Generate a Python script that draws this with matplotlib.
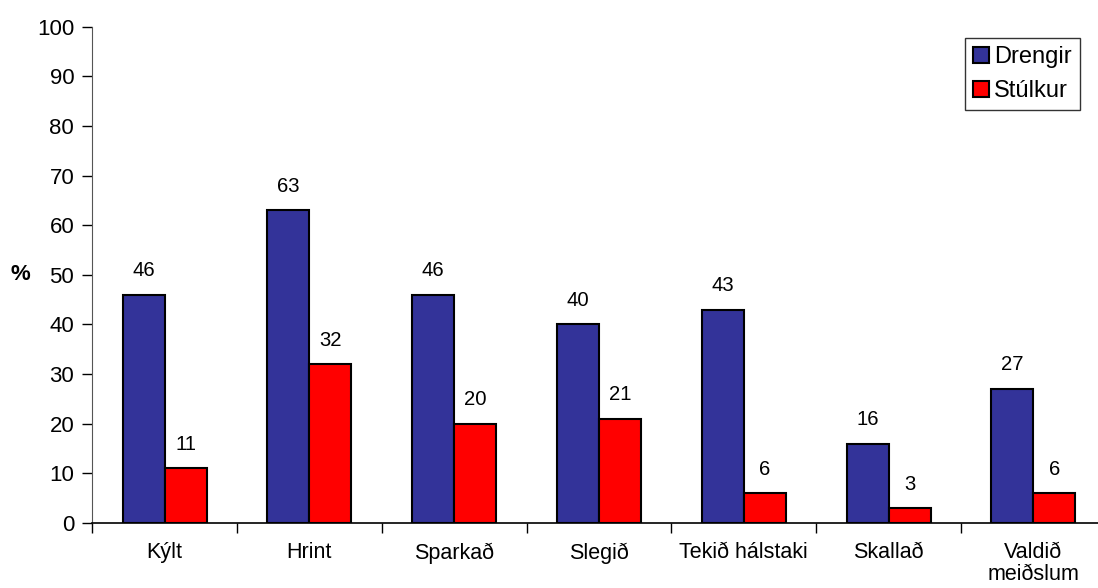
import matplotlib
matplotlib.use("Agg")
import matplotlib.pyplot as plt
import numpy as np

categories = ["Kýlt", "Hrint", "Sparkað", "Slegið", "Tekið hálstaki", "Skallað", "Valdið\nmeiðslum"]
drengir = [46, 63, 46, 40, 43, 16, 27]
stulkur = [11, 32, 20, 21, 6, 3, 6]
yticks = list(range(0, 101, 10))

plt.rcParams['font.family'] = ['Liberation Sans', 'DejaVu Sans']

fig = plt.figure(figsize=(10.98, 5.88), dpi=100)
W, H = 1098, 588
x0, x1 = 92.2, 1105.8
y0, y1 = 523.0, 26.7
ax = fig.add_axes([x0 / W, (H - y0) / H, (x1 - x0) / W, (y0 - y1) / H])

x = np.arange(len(categories))
bw = 42 / 144.8
ax.bar(x - bw / 2, drengir, bw, color="#333399", edgecolor="black", linewidth=1.5, label="Drengir")
ax.bar(x + bw / 2, stulkur, bw, color="#FF0000", edgecolor="black", linewidth=1.5, label="Stúlkur")

for xi, v in zip(x - bw / 2, drengir):
    ax.annotate(str(v), (xi, v), xytext=(0, 10.5), textcoords="offset points", ha="center", va="bottom", fontsize=14.6)
for xi, v in zip(x + bw / 2, stulkur):
    ax.annotate(str(v), (xi, v), xytext=(0, 10.5), textcoords="offset points", ha="center", va="bottom", fontsize=14.6)

ax.set_xlim(-0.5, len(categories) - 0.5)
ax.set_ylim(0, 100)
ax.set_yticks(yticks)
ax.set_yticklabels([str(t) for t in yticks], fontsize=16)
ax.tick_params(axis="y", direction="out", length=7, width=1, pad=6)

ax.set_xticks(x)
ax.set_xticklabels(categories, fontsize=15.5, linespacing=1.05)
ax.tick_params(axis="x", length=0, pad=14)
ax.set_xticks(np.arange(len(categories) + 1) - 0.5, minor=True)
ax.tick_params(axis="x", which="minor", direction="out", length=7, width=1)

ax.spines["top"].set_visible(False)
ax.spines["right"].set_visible(False)
ax.spines["left"].set_color("#555555")
ax.spines["bottom"].set_color("black")
ax.spines["bottom"].set_linewidth(1.2)

fig.text(20 / W, 1 - 275 / H, "%", fontsize=16, fontweight="bold", ha="center", va="center")

leg = ax.legend(loc="upper right", bbox_to_anchor=((1080 - x0) / (x1 - x0), (y0 - 38) / (y0 - y1)),
                fontsize=17, frameon=True, fancybox=False, edgecolor="black",
                handlelength=0.68, handleheight=0.68, handletextpad=0.2, borderpad=0.35,
                labelspacing=0.5, borderaxespad=0, shadow=False)
leg.get_frame().set_linewidth(1.0)

fig.savefig("out.png", dpi=100)
